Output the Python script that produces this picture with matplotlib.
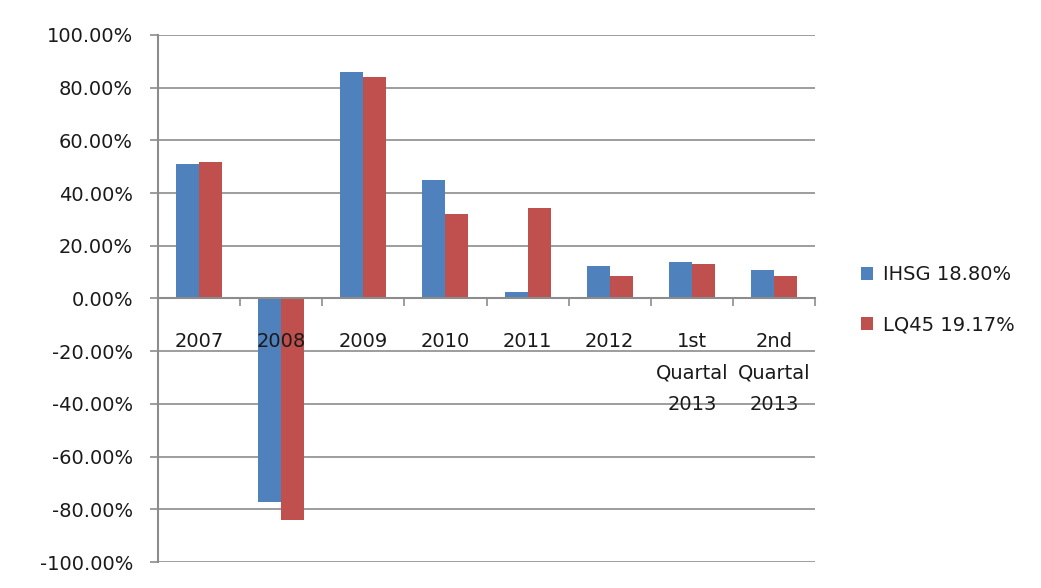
import numpy as np
import matplotlib
matplotlib.use('Agg')
import matplotlib.pyplot as plt
from matplotlib.ticker import FixedLocator, FuncFormatter

categories = ['2007', '2008', '2009', '2010', '2011', '2012',
              '1st\nQuartal\n2013', '2nd\nQuartal\n2013']
ihsg = [51.0, -77.3, 86.1, 45.0, 2.4, 12.4, 13.9, 10.9]
lq45 = [51.9, -84.1, 83.9, 32.1, 34.3, 8.6, 13.2, 8.6]
series_labels = ['IHSG 18.80%', 'LQ45 19.17%']
y_ticks = [-100, -80, -60, -40, -20, 0, 20, 40, 60, 80, 100]

BLUE = '#4F81BD'
RED = '#C0504D'
GRID = '#8C8C8C'
TEXT = '#1a1a1a'


def main():
    plt.rcParams['font.family'] = ['DejaVu Sans']
    fig = plt.figure(figsize=(10.41, 5.88), dpi=100)
    ax = fig.add_axes([0.1518, 0.0442, 0.6311, 0.8963])

    x = np.arange(len(categories))
    w = 0.28
    ax.bar(x - w / 2, ihsg, w, color=BLUE, label=series_labels[0], zorder=3)
    ax.bar(x + w / 2, lq45, w, color=RED, label=series_labels[1], zorder=3)

    ax.set_xlim(-0.5, len(categories) - 0.5)
    ax.set_ylim(-100, 100)

    # gridlines
    ax.set_yticks(y_ticks)
    ax.yaxis.set_major_formatter(FuncFormatter(lambda v, p: f'{v:.2f}%'))
    ax.grid(axis='y', color=GRID, linewidth=1.2)
    ax.yaxis.set_zorder(0.5)
    ax.tick_params(axis='y', length=6, width=1.2, color=GRID,
                   labelsize=14, pad=12, labelcolor=TEXT)

    # category axis crossing at zero, labels drawn over the bars
    for s in ['top', 'right']:
        ax.spines[s].set_visible(False)
    ax.spines['left'].set_color(GRID)
    ax.spines['left'].set_linewidth(1.5)
    ax.spines['bottom'].set_position(('data', 0))
    ax.spines['bottom'].set_color(GRID)
    ax.spines['bottom'].set_linewidth(1.5)
    ax.spines['bottom'].set_zorder(4)
    ax.xaxis.set_zorder(5)

    ax.set_xticks(x)
    ax.set_xticklabels(categories, fontsize=14, linespacing=1.85, color=TEXT)
    ax.tick_params(axis='x', which='major', length=0, pad=24)
    ax.xaxis.set_minor_locator(FixedLocator(np.arange(0.5, len(categories), 1.0)))
    ax.tick_params(axis='x', which='minor', length=6, width=1.2, color=GRID,
                   direction='out')

    fig.legend(loc='center left', bbox_to_anchor=(0.81, 0.49),
               frameon=False, fontsize=14, handlelength=0.65,
               handleheight=0.65, handletextpad=0.5, labelspacing=1.6,
               labelcolor=TEXT)

    fig.savefig('out.png', dpi=100, facecolor='white')


if __name__ == '__main__':
    main()
